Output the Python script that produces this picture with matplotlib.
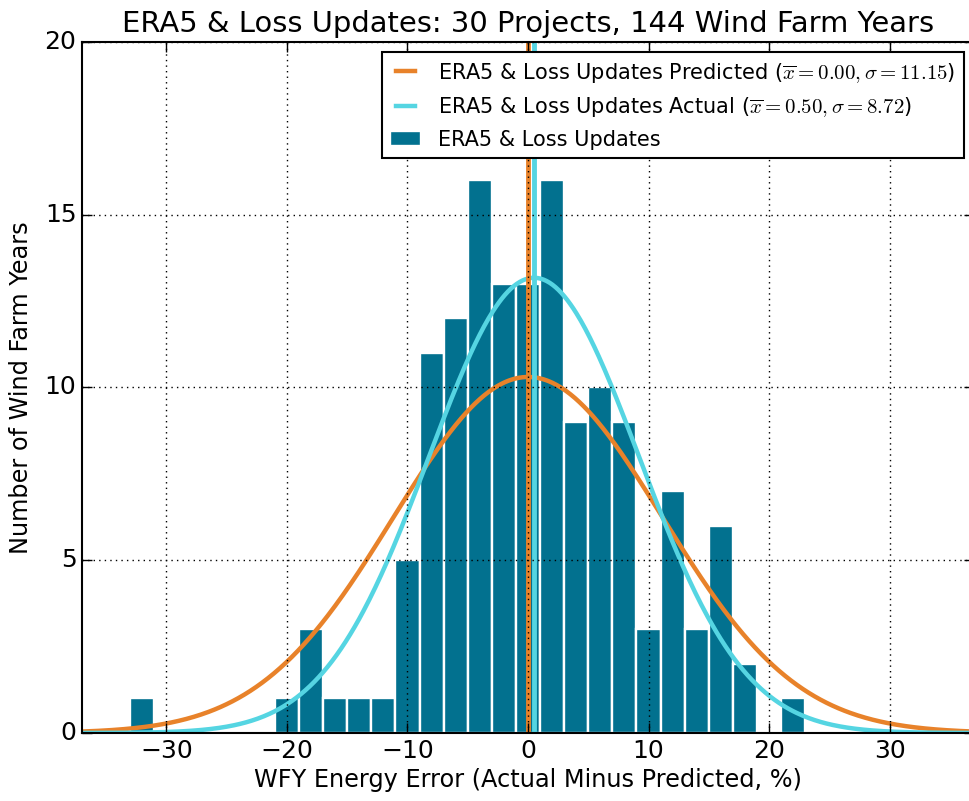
import numpy as np
import matplotlib
matplotlib.use("Agg")
import matplotlib.pyplot as plt

plt.style.use("classic")
plt.rcParams["font.family"] = ["DejaVu Sans"]
plt.rcParams["mathtext.fontset"] = "cm"

# ---- data ----
bin_edges = np.arange(-33, 24, 2)  # 2% wide bins, -33 ... 23
counts = [1, 0, 0, 0, 0, 0, 1, 3, 1, 1, 1, 5, 11, 12, 16, 13, 13, 16,
          9, 10, 9, 3, 7, 3, 6, 2, 0, 1]
n_years = 144
n_projects = 30
pred_mean, pred_std = 0.00, 11.15
act_mean, act_std = 0.50, 8.72

bar_color = "#02718f"
orange = "#e8822a"
cyan = "#55d5e2"

fig = plt.figure(figsize=(9.69, 8.01), dpi=100, facecolor="white")
ax = fig.add_axes([82 / 969, 68 / 801, 892 / 969, 691 / 801])
ax.set_facecolor("white")

centers = (bin_edges[:-1] + bin_edges[1:]) / 2
_, _, bars = ax.hist(centers, bins=bin_edges, weights=counts, color=bar_color,
                     edgecolor="white", linewidth=1.7, label="ERA5 & Loss Updates",
                     zorder=1)

binw = bin_edges[1] - bin_edges[0]
xs = np.linspace(-37, 37, 600)


def npdf(x, m, s):
    return np.exp(-0.5 * ((x - m) / s) ** 2) / (s * np.sqrt(2 * np.pi))


lab_p = r"ERA5 & Loss Updates Predicted ($\overline{x}=%.2f, \sigma=%.2f$)" % (pred_mean, pred_std)
lab_a = r"ERA5 & Loss Updates Actual ($\overline{x}=%.2f, \sigma=%.2f$)" % (act_mean, act_std)

lp, = ax.plot(xs, npdf(xs, pred_mean, pred_std) * n_years * binw, color=orange, lw=3.2,
              label=lab_p, zorder=2)
la, = ax.plot(xs, npdf(xs, act_mean, act_std) * n_years * binw, color=cyan, lw=3.2,
              label=lab_a, zorder=2)
ax.axvline(pred_mean, color=orange, lw=3.5, zorder=2)
ax.axvline(act_mean, color=cyan, lw=3.5, zorder=2)

ax.set_xlim(-37, 37)
ax.set_ylim(0, 20)
ax.set_xticks([-30, -20, -10, 0, 10, 20, 30])
ax.set_yticks([0, 5, 10, 15, 20])
ax.grid(True, color="black", linestyle=":", linewidth=1.0, zorder=2.5)
ax.tick_params(labelsize=18, direction="in", length=7, width=1, top=True, right=True)
for sp in ax.spines.values():
    sp.set_linewidth(1.5)

ax.set_title("ERA5 & Loss Updates: %d Projects, %d Wind Farm Years" % (n_projects, n_years),
             fontsize=20.9, pad=7)
ax.set_xlabel("WFY Energy Error (Actual Minus Predicted, %)", fontsize=17.3, labelpad=4)
ax.set_ylabel("Number of Wind Farm Years", fontsize=17.3, labelpad=8)

leg = ax.legend([lp, la, bars[0]], [lab_p, lab_a, "ERA5 & Loss Updates"],
                loc="upper right", fontsize=15, frameon=True, fancybox=False,
                handlelength=1.5, borderaxespad=0.5)
leg.get_frame().set_edgecolor("black")
leg.get_frame().set_linewidth(1.5)

fig.savefig("out.png", dpi=100, facecolor="white")
